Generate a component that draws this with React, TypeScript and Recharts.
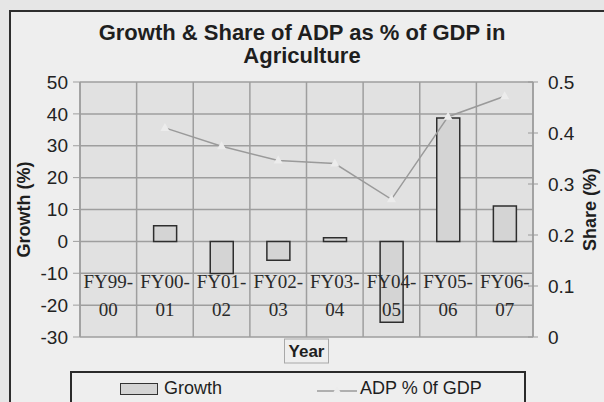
import React from 'react';
import {
  ComposedChart,
  Bar,
  Line,
  XAxis,
  YAxis,
  CartesianGrid,
  Legend,
  Label,
} from 'recharts';

const years = ['FY99-00', 'FY00-01', 'FY01-02', 'FY02-03', 'FY03-04', 'FY04-05', 'FY05-06', 'FY06-07'];
const growth = [0, 4.9, -10.1, -5.9, 1.1, -25.4, 38.7, 11.1];
const adpShare = [null, 0.41, 0.374, 0.346, 0.34, 0.27, 0.432, 0.472];

const growthTicks = [-30, -20, -10, 0, 10, 20, 30, 40, 50];
const shareTicks = [0, 0.1, 0.2, 0.3, 0.4, 0.5];

const data = years.map((year, i) => ({ year, growth: growth[i], share: adpShare[i] }));

const SANS = '"Liberation Sans", Arial, sans-serif';
const SERIF = '"Liberation Serif", "Times New Roman", serif';

// year labels sit inside the plot, two lines each, split after the dash
const YearTick = (props: any) => {
  const { x, y, payload } = props;
  const [a, b] = String(payload.value).split('-');
  return (
    <g>
      <text x={x} y={y - 57} textAnchor="middle" fontFamily={SERIF} fontSize={19} fill="#2a2a2a">
        {a + '-'}
      </text>
      <text x={x} y={y - 29} textAnchor="middle" fontFamily={SERIF} fontSize={19} fill="#2a2a2a">
        {b}
      </text>
    </g>
  );
};

const ShareTick = (props: any) => {
  const { x, y, payload } = props;
  return (
    <g>
      <line x1={x - 20} x2={x - 10} y1={y} y2={y} stroke="#9a9a9a" strokeWidth={1} />
      <text x={x} y={y} dy={7} textAnchor="start" fontFamily={SANS} fontSize={19} fill="#222">
        {payload.value}
      </text>
    </g>
  );
};

const Triangle = (props: any) => {
  const { cx, cy, value } = props;
  if (value == null || cx == null) return null;
  return <path d={`M${cx},${cy - 5} L${cx + 4.5},${cy + 3} L${cx - 4.5},${cy + 3} Z`} fill="#ececec" />;
};

const YearLabel = (props: any) => {
  const { viewBox } = props;
  const cx = viewBox.x + viewBox.width / 2;
  const top = viewBox.y + 2;
  return (
    <g>
      <rect x={cx - 22} y={top} width={44} height={24} fill="#eeeeee" stroke="#a8a8a8" strokeWidth={1} />
      <text x={cx} y={top + 18} textAnchor="middle" fontFamily={SANS} fontWeight="bold" fontSize={17} fill="#1e1e1e">
        Year
      </text>
    </g>
  );
};

const LegendBox = () => (
  <div
    style={{
      position: 'absolute',
      left: 70,
      top: 371,
      width: 456,
      height: 40,
      border: '2px solid #2a2a2a',
      boxSizing: 'border-box',
      fontFamily: SANS,
      fontSize: 18,
      color: '#1e1e1e',
    }}
  >
    <div style={{ position: 'absolute', left: 48, top: 5, display: 'flex', alignItems: 'center' }}>
      <span style={{ width: 36, height: 10, background: '#d4d4d4', border: '1.5px solid #333', display: 'inline-block', marginRight: 6 }} />
      Growth
    </div>
    <div style={{ position: 'absolute', left: 245, top: 5, display: 'flex', alignItems: 'center' }}>
      <svg width={40} height={12} style={{ marginRight: 3 }}>
        <line x1={0} x2={40} y1={8} y2={8} stroke="#9a9a9a" strokeWidth={1.5} />
        <path d="M20,3 L24,10 L16,10 Z" fill="#ececec" />
      </svg>
      ADP % 0f GDP
    </div>
  </div>
);

export default function App() {
  return (
    <div style={{ position: 'relative', width: 604, height: 402, background: '#e6e6e6', overflow: 'hidden' }}>
      <style>{'body{margin:0}'}</style>
      <div
        style={{
          position: 'absolute',
          left: 9,
          top: 10,
          width: 620,
          height: 420,
          background: '#eeeeee',
          border: '2px solid #2e2e2e',
        }}
      />
      <div
        style={{
          position: 'absolute',
          left: 0,
          width: 604,
          top: 21,
          textAlign: 'center',
          fontFamily: SANS,
          fontWeight: 'bold',
          fontSize: 22,
          lineHeight: '23px',
          color: '#1e1e1e',
        }}
      >
        <div>Growth &amp; Share of ADP as % of GDP in</div>
        <div>Agriculture</div>
      </div>
      <div style={{ position: 'absolute', left: 0, top: 0 }}>
        <ComposedChart
          width={604}
          height={402}
          data={data}
          margin={{ top: 82, right: 16, bottom: 35, left: 30 }}
          barCategoryGap="30%"
        >
          <CartesianGrid
            fill="#e1e1e1"
            stroke="#9e9e9e"
            strokeWidth={1.5}
            yAxisId="left"
            verticalCoordinatesGenerator={({ offset }: any) =>
              years.map((_, i) => offset.left + (i * offset.width) / years.length).concat(offset.left + offset.width)
            }
          />
          <XAxis
            dataKey="year"
            height={30}
            axisLine={false}
            tickLine={false}
            interval={0}
            tick={<YearTick />}
          >
            <Label content={<YearLabel />} />
          </XAxis>
          <YAxis
            yAxisId="left"
            width={50}
            domain={[-30, 50]}
            ticks={growthTicks}
            interval={0}
            tickSize={7}
            tickMargin={5}
            axisLine={{ stroke: '#9e9e9e', strokeWidth: 1.5 }}
            tickLine={{ stroke: '#9e9e9e' }}
            tick={{ fontFamily: SANS, fontSize: 19, fill: '#222' }}
          >
            <Label
              value="Growth (%)"
              angle={-90}
              position="insideLeft"
              offset={-6}
              style={{ textAnchor: 'middle', fontFamily: SANS, fontWeight: 'bold', fontSize: 18, fill: '#1e1e1e' }}
            />
          </YAxis>
          <YAxis
            yAxisId="right"
            orientation="right"
            width={55}
            domain={[0, 0.5]}
            ticks={shareTicks}
            interval={0}
            tickSize={0}
            tickMargin={15}
            axisLine={{ stroke: '#9e9e9e', strokeWidth: 1.5 }}
            tickLine={false}
            tick={<ShareTick />}
          >
            <Label
              value="Share (%)"
              angle={-90}
              position="insideRight"
              offset={-2}
              style={{ textAnchor: 'middle', fontFamily: SANS, fontWeight: 'bold', fontSize: 18, fill: '#1e1e1e' }}
            />
          </YAxis>
          <Bar
            yAxisId="left"
            dataKey="growth"
            name="Growth"
            barSize={23}
            fill="#d4d4d4"
            stroke="#2e2e2e"
            strokeWidth={1.5}
            isAnimationActive={false}
          />
          <Line
            yAxisId="right"
            dataKey="share"
            name="ADP % 0f GDP"
            type="linear"
            stroke="#9a9a9a"
            strokeWidth={1.5}
            dot={<Triangle />}
            activeDot={false}
            isAnimationActive={false}
          />
          <Legend content={() => null} />
        </ComposedChart>
      </div>
      <LegendBox />
    </div>
  );
}
